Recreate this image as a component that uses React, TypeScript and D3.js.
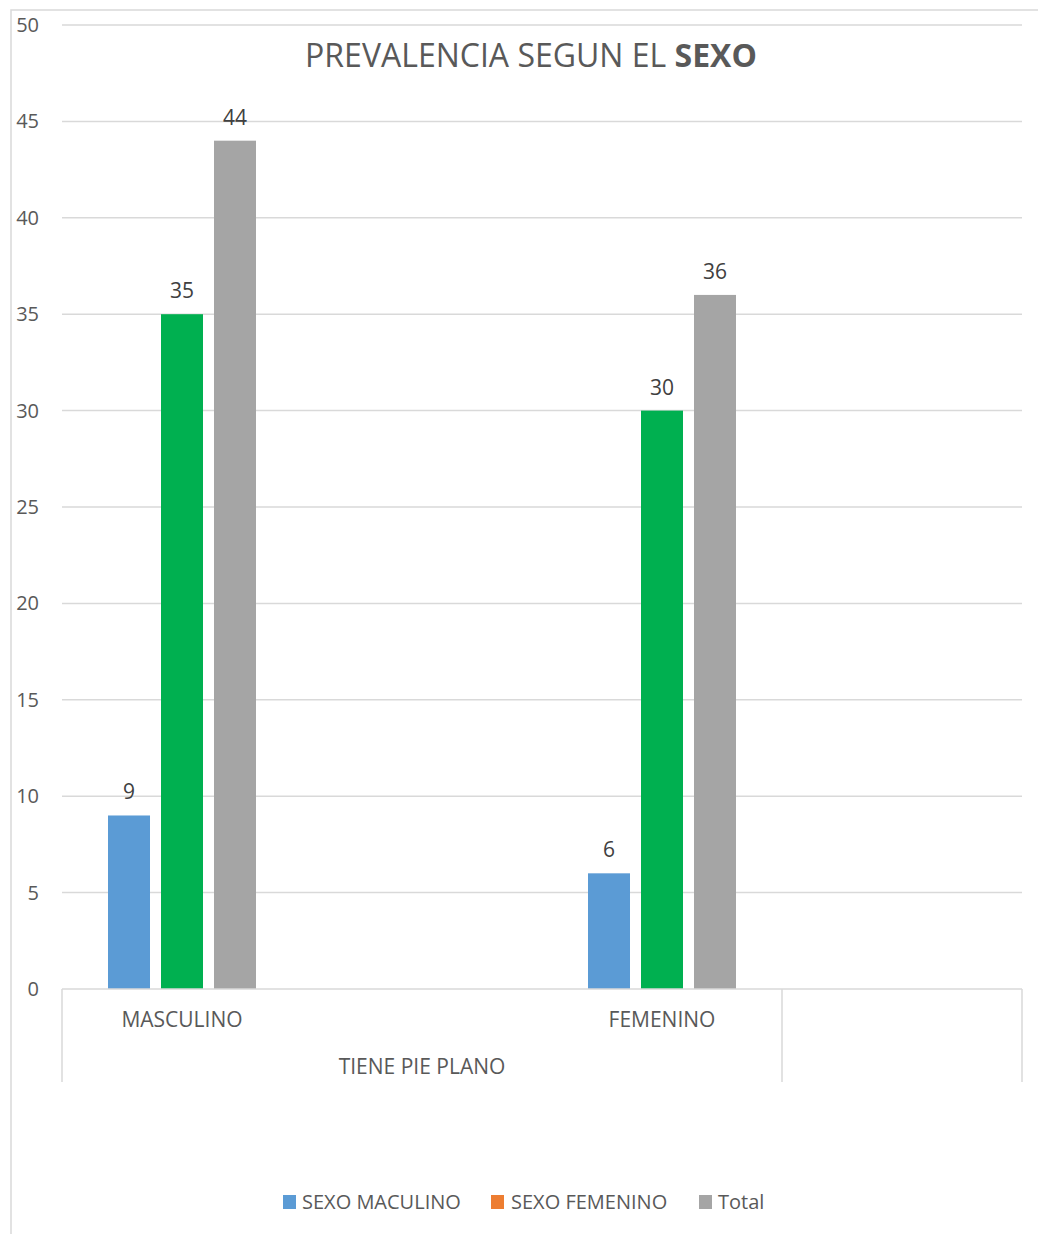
import React from "react";
import * as d3 from "d3";

// Category axis: two labelled slots plus empty slots, grouped under a parent label
const categories = ["MASCULINO", "", "FEMENINO", ""];
const groups = [
  { label: "TIENE PIE PLANO", from: 0, to: 2 },
  { label: "", from: 3, to: 3 },
];

const seriesNames = ["SEXO MACULINO", "SEXO FEMENINO", "Total"];
const sexoMasculino = [9, null, 6, null];
const sexoFemenino = [35, null, 30, null];
const total = [44, null, 36, null];

const legendColors = ["#5B9BD5", "#ED7D31", "#A5A5A5"];
const barColors = ["#5B9BD5", "#00B050", "#A5A5A5"];

const yTicks = [0, 5, 10, 15, 20, 25, 30, 35, 40, 45, 50];

const W = 1038;
const H = 1234;
const FONT = "'Open Sans', 'Noto Sans', sans-serif";
const TEXT = "#595959";
const GRID = "#D9D9D9";

export default function App() {
  const left = 62;
  const right = 1022;
  const top = 25;
  const bottom = 989;

  const x = d3
    .scaleBand<number>()
    .domain(categories.map((_, i) => i))
    .range([left, right]);

  const inner = d3
    .scaleBand<string>()
    .domain(seriesNames)
    .range([0, x.bandwidth()])
    .paddingInner(0.2075)
    .paddingOuter(0.868);

  const y = d3.scaleLinear().domain([0, 50]).range([bottom, top]);

  const values = [sexoMasculino, sexoFemenino, total];

  const legendItems = [
    { name: seriesNames[0], sx: 283, tx: 302 },
    { name: seriesNames[1], sx: 491, tx: 511 },
    { name: seriesNames[2], sx: 699, tx: 718 },
  ];

  return (
    <svg
      width={W}
      height={H}
      style={{ position: "absolute", left: 0, top: 0, background: "#fff" }}
      fontFamily={FONT}
    >
      {/* chart area frame */}
      <rect x={11} y={10} width={W + 20} height={H + 20} fill="#fff" stroke={GRID} strokeWidth={1.5} />

      {/* gridlines */}
      {yTicks.slice(1).map((t) => (
        <line key={t} x1={left} x2={right} y1={y(t)} y2={y(t)} stroke={GRID} strokeWidth={1.5} />
      ))}

      {/* y tick labels */}
      {yTicks.map((t) => (
        <text
          key={"yl" + t}
          x={39}
          y={y(t)}
          dy="0.35em"
          textAnchor="end"
          fontSize={20}
          fill={TEXT}
        >
          {t}
        </text>
      ))}

      {/* title */}
      <text x={531} y={67} textAnchor="middle" fontSize={32} fill={TEXT}>
        PREVALENCIA SEGUN EL <tspan fontWeight="bold">SEXO</tspan>
      </text>

      {/* bars */}
      {values.map((vals, s) =>
        vals.map((v, i) =>
          v == null ? null : (
            <g key={s + "-" + i}>
              <rect
                x={(x(i) as number) + (inner(seriesNames[s]) as number)}
                y={y(v)}
                width={inner.bandwidth()}
                height={y(0) - y(v)}
                fill={barColors[s]}
              />
              <text
                x={(x(i) as number) + (inner(seriesNames[s]) as number) + inner.bandwidth() / 2}
                y={y(v) - 16}
                textAnchor="middle"
                fontSize={21}
                fill="#404040"
              >
                {v}
              </text>
            </g>
          )
        )
      )}

      {/* category axis */}
      <line x1={left} x2={right} y1={bottom} y2={bottom} stroke={GRID} strokeWidth={1.5} />
      {[0, 3, 4].map((i) => {
        const xx = i < categories.length ? (x(i) as number) : right;
        return <line key={"d" + i} x1={xx} x2={xx} y1={bottom} y2={1082} stroke={GRID} strokeWidth={1.5} />;
      })}
      {categories.map((c, i) => (
        <text
          key={"c" + i}
          x={(x(i) as number) + x.bandwidth() / 2}
          y={1027}
          textAnchor="middle"
          fontSize={21}
          fill={TEXT}
        >
          {c}
        </text>
      ))}
      {groups.map((g) => (
        <text
          key={"g" + g.from}
          x={((x(g.from) as number) + (x(g.to) as number) + x.bandwidth()) / 2}
          y={1074}
          textAnchor="middle"
          fontSize={21}
          fill={TEXT}
        >
          {g.label}
        </text>
      ))}

      {/* legend */}
      {legendItems.map((l, i) => (
        <g key={l.name}>
          <rect x={l.sx} y={1195} width={13} height={14} fill={legendColors[i]} />
          <text x={l.tx} y={1209} fontSize={20} fill={TEXT}>
            {l.name}
          </text>
        </g>
      ))}
    </svg>
  );
}
